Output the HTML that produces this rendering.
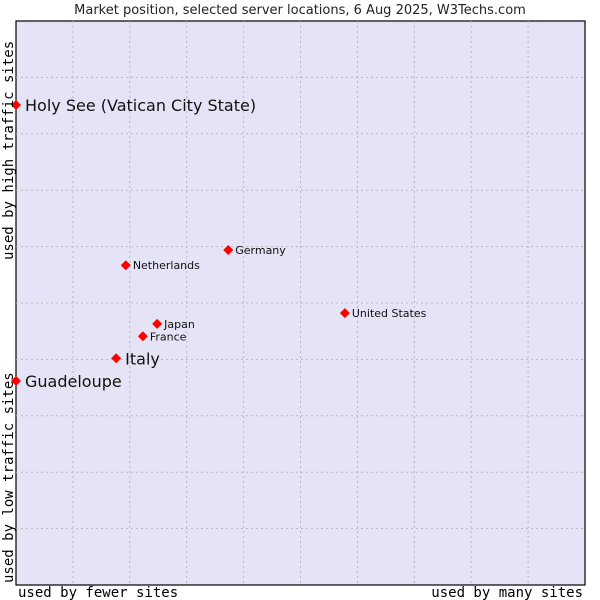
<!DOCTYPE html>
<html><head><meta charset="utf-8"><style>
body{margin:0;background:#fff;}
svg{display:block;font-family:"DejaVu Sans","Liberation Sans",sans-serif;}
</style></head><body>
<svg id="chart" width="600" height="600">
<text x="300" y="14" text-anchor="middle" font-size="13" fill="#222">Market position, selected server locations, 6 Aug 2025, W3Techs.com</text>
<rect x="16" y="21" width="569" height="564" fill="#e4e4f6" stroke="#000" stroke-width="1.2"/>
<g id="grid"></g>
<g id="points"></g>
<text x="18" y="597" font-family="'DejaVu Sans Mono',monospace" font-size="14" fill="#000">used by fewer sites</text>
<text x="583" y="597" text-anchor="end" font-family="'DejaVu Sans Mono',monospace" font-size="14" fill="#000">used by many sites</text>
<text transform="translate(13,583) rotate(-90)" font-family="'DejaVu Sans Mono',monospace" font-size="14" fill="#000">used by low traffic sites</text>
<text transform="translate(13,260) rotate(-90)" font-family="'DejaVu Sans Mono',monospace" font-size="14" fill="#000">used by high traffic sites</text>
</svg>
<script>
const names = ["Holy See (Vatican City State)","Guadeloupe","Italy","France","Japan","Netherlands","Germany","United States"];
const xValues = [0,0,17.6,22.3,24.8,19.3,37.3,57.8];
const yValues = [85.1,36.2,40.2,44.1,46.3,56.7,59.4,48.2];
const highlighted = [true,true,true,false,false,false,false,false];
const L=16,R=585,T=21,B=585;
const xs=v=>L+v/100*(R-L), ys=v=>B-v/100*(B-T);
const NS="http://www.w3.org/2000/svg";
const grid=document.getElementById('grid'), pts=document.getElementById('points');
for(let i=1;i<10;i++){
  const v=document.createElementNS(NS,'line');
  v.setAttribute('x1',xs(i*10));v.setAttribute('x2',xs(i*10));v.setAttribute('y1',T);v.setAttribute('y2',B);
  v.setAttribute('stroke','#b8b8b8');v.setAttribute('stroke-dasharray','2,3');
  
  
  grid.appendChild(v);
  const h=document.createElementNS(NS,'line');
  h.setAttribute('x1',L);h.setAttribute('x2',R);h.setAttribute('y1',ys(i*10));h.setAttribute('y2',ys(i*10));
  h.setAttribute('stroke','#b8b8b8');h.setAttribute('stroke-dasharray','2,3');
  
  
  grid.appendChild(h);
}
names.forEach((n,i)=>{
  const x=xs(xValues[i]),y=ys(yValues[i]);
  const d=document.createElementNS(NS,'polygon');
  d.setAttribute('points',`${x},${y-5} ${x+5},${y} ${x},${y+5} ${x-5},${y}`);
  d.setAttribute('fill','#f00');
  
  
  pts.appendChild(d);
  const t=document.createElementNS(NS,'text');
  const big=highlighted[i];
  t.setAttribute('x',x+(big?9:7));t.setAttribute('y',y+(big?6:4));
  t.setAttribute('font-size',big?16:11);t.setAttribute('fill','#111');
  t.textContent=n;
  
  
  pts.appendChild(t);
});
</script>
</body></html>
